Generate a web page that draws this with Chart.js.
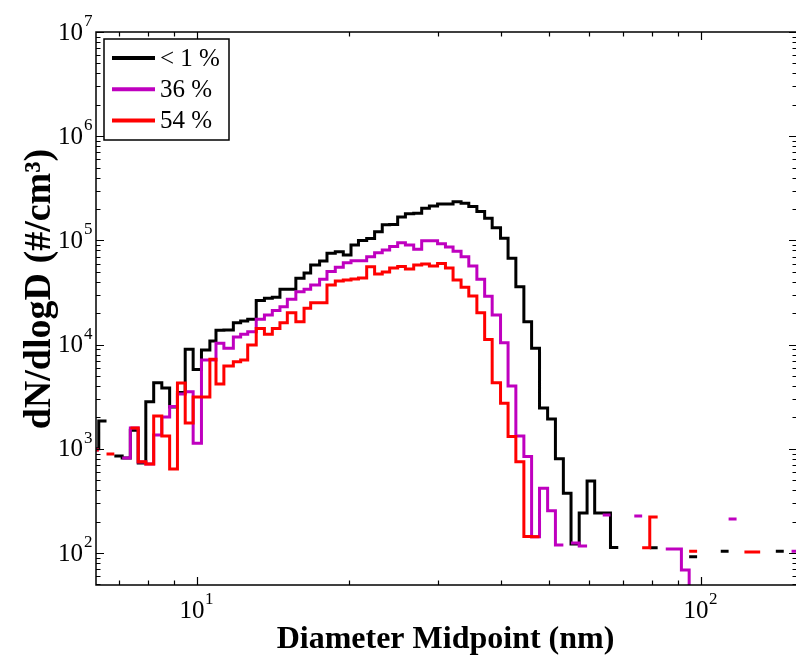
<!DOCTYPE html>
<html>
<head>
<meta charset="utf-8">
<script src="https://cdn.jsdelivr.net/npm/chart.js@4.4.0/dist/chart.umd.min.js"></script>
<style>
  html, body { margin: 0; padding: 0; background: #fff; overflow: hidden; }
  #wrap { width: 800px; height: 664px; }
</style>
</head>
<body>
<div id="wrap"><canvas id="sizeChart" width="800" height="664"></canvas></div>
<script>
// Bin diameters (nm); each value runs from its diameter to the next one
const diameters = [6.15, 6.38, 6.61, 6.85, 7.10, 7.37, 7.64, 7.91, 8.20, 8.51, 8.82, 9.14, 9.47, 9.82,
  10.2, 10.6, 10.9, 11.3, 11.8, 12.2, 12.6, 13.1, 13.6, 14.1,
  14.6, 15.1, 15.7, 16.3, 16.8, 17.5, 18.1, 18.8, 19.5, 20.2,
  20.9, 21.7, 22.5, 23.3, 24.1, 25.0, 25.9, 26.9, 27.9, 28.9,
  30.0, 31.1, 32.2, 33.4, 34.6, 35.9, 37.2, 38.5, 40.0, 41.4,
  42.9, 44.5, 46.1, 47.8, 49.6, 51.4, 53.3, 55.2, 57.3, 59.4,
  61.5, 63.8, 66.1, 68.5, 71.0, 73.7, 76.4, 79.1, 82.0, 85.1,
  88.2, 91.4, 94.7, 98.2, 101.8, 105.5, 109.4, 113.4, 117.6, 121.9,
  126.3, 131.0, 135.8, 140.7, 145.9, 151.2, 156.8];

// dN/dlogD (#/cm3), null = empty bin
const rhLow = [1000, 1850, null, 853, 816, 1510, 731, 2830, 4310, 3830,
  2520, 3460, 9020, 5770, 8870, 10800, 13700, 13800, 16200, 16800,
  17500, 26500, 27800, 28500, 34000, 34000, 43300, 48700, 58000, 63400,
  75200, 78000, 72400, 90300, 100000, 104000, 121000, 141000, 142000, 168000,
  180000, 182000, 203000, 214000, 224000, 224000, 235000, 227000, 211000, 189000,
  163000, 132000, 105000, 67400, 36000, 16600, 9220, 2470, 1930, 803,
  374, 122, 242, 491, 242, 242, 113, null, null, null,
  null, 112, null, null, null, null, 92, null, null, null,
  104, null, null, null, null, null, null, 104, null, null];

const rh36 = [973, null, null, null, 816, 1580, 747, 715, 1360, 2020,
  2540, 3360, 3530, 1130, 7120, 7120, 10300, 9220, 11800, 12600,
  13300, 17500, 19200, 21200, 23100, 27200, 32200, 34000, 37300, 42400,
  50300, 55200, 61100, 63900, 63900, 69800, 76200, 80900, 87400, 95100,
  90300, 82200, 99300, 99300, 92900, 86400, 78600, 69800, 56800, 42400,
  29100, 19200, 10400, 4010, 1330, 844, 143, 418, 255, 119,
  null, 125, 117, null, null, 232, null, null, null, 226,
  null, null, null, 109, 109, 68.7, 30, null, null, null,
  null, 212, null, null, null, null, null, null, null, 104];

const rh54 = [973, null, 891, null, null, 1580, 752, 715, 2060, 1330,
  640, 4280, 1770, 3140, 3140, 7230, 4190, 6230, 6850, 7120,
  9910, 14300, 12600, 14300, 16200, 20200, 16600, 22300, 25200, 25200,
  37300, 40800, 41700, 42600, 43600, 55900, 47600, 49800, 54400, 56200,
  53200, 58100, 59400, 56800, 60000, 54400, 41700, 35500, 29300, 20200,
  11200, 4310, 2730, 1310, 752, 144, 143, null, null, null,
  null, null, null, null, null, null, null, null, null, null,
  112, 221, null, null, null, null, 104, null, null, null,
  null, null, null, 102, 102, null, null, null, null, null];

const seriesLabels = ['< 1 %', '36 %', '54 %'];
const seriesColors = ['#000000', '#bf00bf', '#ff0000'];
const xTickPowers = [1, 2];
const yTickPowers = [2, 3, 4, 5, 6, 7];

// stairs: horizontal run over each bin, vertical jumps between bins
function stairs(values) {
  const pts = [];
  values.forEach((v, i) => {
    if (v === null) {
      pts.push({ x: diameters[i], y: null });
      return;
    }
    pts.push({ x: diameters[i], y: v }, { x: diameters[i + 1], y: v });
  });
  return pts;
}

const SERIF = '"Liberation Serif", "Times New Roman", serif';

// box, inward ticks, tick labels, titles and legend (MATLAB look)
const axesFrame = {
  id: 'axesFrame',
  afterDatasetsDraw(chart) {
    const { ctx, chartArea: a, scales } = chart;
    const xs = scales.x, ys = scales.y;
    ctx.save();
    ctx.strokeStyle = '#000';
    ctx.lineWidth = 1.5;
    ctx.strokeRect(a.left, a.top, a.right - a.left, a.bottom - a.top);

    ctx.lineWidth = 1.2;
    ctx.beginPath();
    for (let p = 0; p <= 2; p++) {
      for (let k = 1; k <= 9; k++) {
        const v = k * Math.pow(10, p);
        if (v < xs.min || v > xs.max) continue;
        const px = Math.round(xs.getPixelForValue(v)) + 0.5;
        const len = k === 1 ? 8 : 4.5;
        ctx.moveTo(px, a.bottom); ctx.lineTo(px, a.bottom - len);
        ctx.moveTo(px, a.top); ctx.lineTo(px, a.top + len);
      }
    }
    for (let p = 1; p <= 7; p++) {
      for (let k = 1; k <= 9; k++) {
        const v = k * Math.pow(10, p);
        if (v < ys.min || v > ys.max) continue;
        const py = Math.round(ys.getPixelForValue(v)) + 0.5;
        const len = k === 1 ? 8 : 4.5;
        ctx.moveTo(a.left, py); ctx.lineTo(a.left + len, py);
        ctx.moveTo(a.right, py); ctx.lineTo(a.right - len, py);
      }
    }
    ctx.stroke();

    ctx.fillStyle = '#000';
    // y tick labels
    yTickPowers.forEach(p => {
      const py = ys.getPixelForValue(Math.pow(10, p));
      ctx.font = '25px ' + SERIF;
      ctx.textAlign = 'right';
      ctx.textBaseline = 'middle';
      ctx.fillText('10', 83, py + 1);
      ctx.font = '17px ' + SERIF;
      ctx.textAlign = 'left';
      ctx.textBaseline = 'alphabetic';
      ctx.fillText(String(p), 84, py - 6);
    });
    // x tick labels
    xTickPowers.forEach(p => {
      const px = xs.getPixelForValue(Math.pow(10, p));
      ctx.font = '25px ' + SERIF;
      ctx.textAlign = 'center';
      ctx.textBaseline = 'middle';
      ctx.fillText('10', px - 5, 611);
      ctx.font = '17px ' + SERIF;
      ctx.textAlign = 'left';
      ctx.textBaseline = 'alphabetic';
      ctx.fillText(String(p), px + 8, 604);
    });

    // axis titles
    ctx.font = 'bold 32px ' + SERIF;
    ctx.textAlign = 'center';
    ctx.textBaseline = 'middle';
    ctx.fillText('Diameter Midpoint (nm)', (a.left + a.right) / 2 - 1, 640);
    ctx.save();
    ctx.translate(40, 289);
    ctx.rotate(-Math.PI / 2);
    ctx.font = 'bold 38px ' + SERIF;
    ctx.fillText('dN/dlogD (#/cm\u00b3)', 0, 0);
    ctx.restore();

    // legend box
    ctx.fillStyle = '#fff';
    ctx.fillRect(104, 39, 125, 101);
    ctx.lineWidth = 1.5;
    ctx.strokeStyle = '#000';
    ctx.strokeRect(104, 39, 125, 101);
    seriesLabels.forEach((lab, i) => {
      const ly = 58 + i * 31.3;
      ctx.strokeStyle = seriesColors[i];
      ctx.lineWidth = 4;
      ctx.beginPath();
      ctx.moveTo(112, ly); ctx.lineTo(155, ly);
      ctx.stroke();
      ctx.fillStyle = '#000';
      ctx.font = '25px ' + SERIF;
      ctx.textAlign = 'left';
      ctx.textBaseline = 'middle';
      ctx.fillText(lab, 160, ly + 1);
    });
    ctx.restore();
  }
};

const seriesData = [rhLow, rh36, rh54];

const config = {
  type: 'line',
  data: {
    datasets: seriesData.map((vals, i) => ({
      label: seriesLabels[i],
      data: stairs(vals),
      borderColor: seriesColors[i],
      borderWidth: 3,
      pointRadius: 0,
      tension: 0,
      spanGaps: false,
      borderJoinStyle: 'miter',
      borderCapStyle: 'butt',
      order: 3 - i,
    })),
  },
  options: {
    responsive: false,
    animation: false,
    devicePixelRatio: 1,
    layout: { padding: { left: 96, top: 32, right: 3, bottom: 79 } },
    plugins: {
      legend: { display: false },
      tooltip: { enabled: false },
    },
    scales: {
      x: { type: 'logarithmic', min: 6.3, max: 155, display: false },
      y: { type: 'logarithmic', min: 49.3, max: 1e7, display: false },
    },
  },
  plugins: [axesFrame],
};

const ctx = document.getElementById('sizeChart').getContext('2d');
new Chart(ctx, config);
</script>
</body>
</html>
